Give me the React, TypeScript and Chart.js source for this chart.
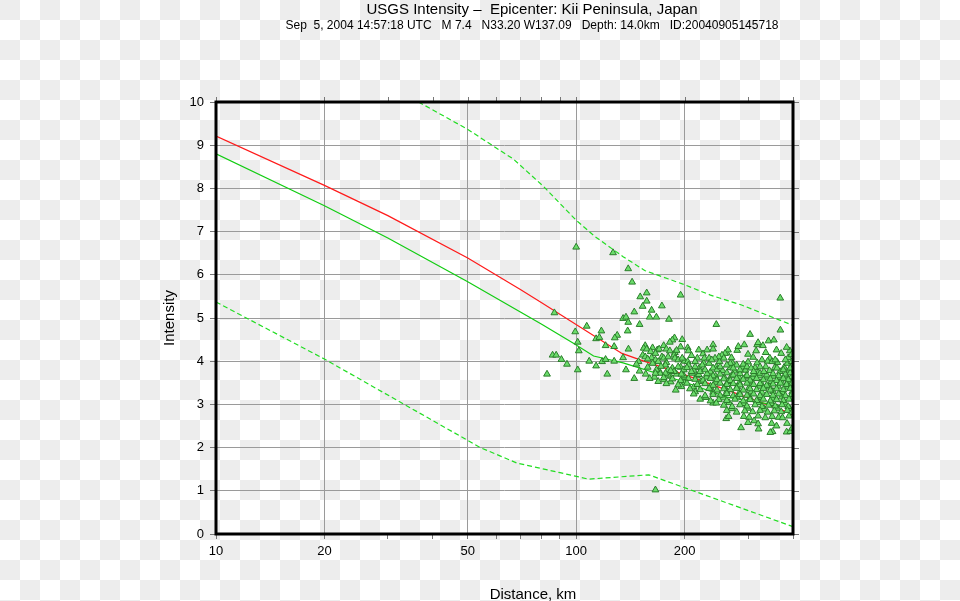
import React, { useEffect, useRef } from "react";
import { Chart, registerables } from "chart.js";

Chart.register(...registerables);

const FONT = '"Liberation Sans", Arial, Helvetica, sans-serif';

// ---- axes ----
const xTickValues = [10, 20, 30, 40, 50, 60, 70, 80, 90, 100, 200, 300, 400];
const xLabeledTicks = [10, 20, 50, 100, 200];
const yTickValues = [0, 1, 2, 3, 4, 5, 6, 7, 8, 9, 10];

// ---- regression lines (distance km, intensity) ----
const medianDist = [10, 20, 30, 50, 70, 80, 134, 150.6, 198, 285.5, 393, 400];
const medianMmi = [9.21, 8.07, 7.37, 6.39, 5.66, 5.36, 4.18, 4.03, 3.7, 3.22, 2.8, 2.72];

const biasDist = [10, 20, 30, 50, 70, 80, 98, 111.8, 135, 198, 262, 393, 400];
const biasMmi = [8.8, 7.6, 6.85, 5.84, 5.14, 4.86, 4.42, 4.12, 3.96, 3.53, 3.17, 2.93, 2.92];

const upperDist = [36.5, 49.9, 66.9, 81.3, 99.8, 113, 135, 155, 200, 236, 288, 397, 400];
const upperMmi = [10, 9.37, 8.68, 8.04, 7.27, 6.88, 6.42, 6.1, 5.77, 5.53, 5.3, 4.84, 4.83];

const lowerDist = [10, 20, 54.2, 68.6, 90.2, 108.2, 159, 400];
const lowerMmi = [5.37, 4.05, 2.0, 1.64, 1.42, 1.27, 1.37, 0.17];

// ---- stations [distance km, intensity] ----
const stationsSparse: [number, number][] = [
  [100, 6.64], [126.6, 6.51], [139.5, 6.14], [143, 5.83], [157, 5.58], [150.6, 5.49], [157, 5.39],
  [153, 5.27], [173, 5.28], [162, 5.18], [145, 5.14], [195, 5.53], [368.7, 5.46], [245, 4.85],
  [135, 4.99], [137.5, 5.02], [160, 5.02], [167, 5.02], [181, 4.97], [139.5, 4.9], [150, 4.85],
  [87, 5.12], [99.4, 4.68], [107, 4.81], [117.5, 4.7], [113.6, 4.52], [116, 4.55], [139, 4.7],
  [130, 4.6], [128, 4.54], [101, 4.44], [101.7, 4.24], [120.7, 4.36], [127.5, 4.34], [139.7, 4.28],
  [86, 4.14], [88, 4.14], [91, 4.04], [94.3, 3.93], [83, 3.7], [101, 3.8], [108.7, 4.0], [118, 3.99],
  [120.7, 4.04], [113.6, 3.89], [127.5, 4.0], [122, 3.7], [137.5, 3.8], [135, 4.08], [145, 3.6],
  [187.5, 4.54], [185, 4.49], [197, 4.5], [304, 4.62], [293, 4.38], [318, 4.38], [320, 4.43],
  [342, 4.47], [354, 4.49], [369, 4.72], [189, 3.33], [245, 3.03], [166, 1.02], [182, 4.44],
  [166, 3.72], [169, 3.53],
];

const stationsMid: [number, number][] = [
  [155.5, 4.36], [154, 4.3], [157, 4.28], [163, 4.31], [168, 4.26], [170, 4.28], [161, 4.22],
  [166, 4.18], [178, 4.28], [182, 4.24], [190, 4.25], [204, 4.31], [205, 4.24], [219, 4.26],
  [231, 4.26], [153, 4.14], [155.5, 4.1], [162, 4.08], [173, 4.1], [175, 4.07], [180, 4.1],
  [187, 4.14], [188, 4.07], [192, 4.03], [197, 4.07], [209, 4.13], [217, 4.07], [214, 3.99],
  [227, 4.07], [234, 4.07], [204, 3.99], [205, 3.91], [214, 3.87], [224, 3.91], [234, 3.95],
  [177, 3.91], [180, 3.8], [185, 3.84], [192, 3.87], [199, 3.8], [149, 3.99], [147, 3.93],
  [166, 4.03], [169, 3.99], [167, 3.8], [177, 3.72], [187, 3.76], [209, 3.76], [221, 3.76],
  [228, 3.8], [240, 4.28], [264, 4.26], [259, 4.18], [254, 4.14], [249, 4.1], [243, 4.07],
  [238, 4.03], [257, 4.07], [268, 3.95], [279, 3.91], [291, 3.93], [298, 3.87], [306, 3.84],
  [324, 3.87], [328, 4.03], [350, 3.99], [357, 4.03], [381, 4.03], [240, 3.84], [246, 3.8],
  [251, 3.87], [262, 3.91], [273, 3.84], [285, 3.8], [311, 3.76], [332, 3.76], [361, 3.84],
  [376, 3.8], [393, 3.84],
  [158, 3.86], [163, 3.95], [172, 3.88], [158, 4.05], [175, 3.62], [183, 3.78], [196, 3.7],
  [203, 3.85], [150, 3.77], [156, 3.7],
];

const stationsDense: [number, number][] = [
  [178, 3.97], [200, 4.0], [226, 3.96], [250, 3.99], [272, 3.95], [300, 3.98], [318, 3.96], [340, 4.0],
  [362, 3.97], [386, 3.95], [397, 3.99],
  [170, 3.78], [186, 3.76], [212, 3.79], [236, 3.75], [255, 3.78], [275, 3.77], [295, 3.79], [320, 3.74],
  [344, 3.78], [368, 3.76], [390, 3.79],
  [188, 4.2], [225, 4.17], [262, 4.19], [300, 4.16], [336, 4.2], [371, 4.18], [396, 4.15],
  [175, 4.36], [195, 4.33], [240, 4.38], [282, 4.34], [330, 4.36], [384, 4.32],
  [171, 3.72], [180, 3.68], [190, 3.7], [199, 3.66], [210, 3.72], [219, 3.69], [231, 3.71], [240, 3.66],
  [251, 3.7], [262, 3.73], [273, 3.68], [285, 3.71], [298, 3.67], [311, 3.7], [324, 3.72], [338, 3.68],
  [352, 3.71], [365, 3.66], [381, 3.7], [393, 3.73],
  [160, 3.6], [175, 3.57], [185, 3.59], [195, 3.55], [205, 3.6], [214, 3.58], [225, 3.56], [236, 3.6],
  [246, 3.57], [257, 3.59], [268, 3.55], [279, 3.6], [291, 3.58], [304, 3.56], [317, 3.6], [331, 3.57],
  [346, 3.59], [360, 3.55], [376, 3.6], [388, 3.57],
  [178, 3.48], [192, 3.45], [203, 3.49], [217, 3.46], [228, 3.48], [240, 3.44], [251, 3.49], [262, 3.46],
  [273, 3.48], [285, 3.45], [298, 3.49], [311, 3.46], [324, 3.48], [338, 3.44], [352, 3.47], [369, 3.49],
  [384, 3.46], [397, 3.48],
  [207, 3.36], [221, 3.34], [234, 3.37], [246, 3.33], [257, 3.36], [268, 3.34], [279, 3.37], [291, 3.33],
  [304, 3.36], [317, 3.34], [331, 3.37], [346, 3.33], [360, 3.36], [376, 3.34], [393, 3.37],
  [212, 3.24], [228, 3.2], [240, 3.23], [251, 3.21], [262, 3.25], [273, 3.2], [285, 3.23], [298, 3.21],
  [311, 3.24], [324, 3.2], [338, 3.23], [352, 3.21], [365, 3.24], [381, 3.2], [397, 3.23],
  [221, 3.12], [236, 3.08], [249, 3.11], [262, 3.09], [276, 3.12], [291, 3.08], [304, 3.11], [317, 3.09],
  [331, 3.12], [346, 3.08], [360, 3.11], [376, 3.09], [390, 3.12],
  [257, 2.98], [271, 2.95], [285, 2.99], [298, 2.96], [314, 2.99], [328, 2.95], [342, 2.98], [357, 2.96],
  [373, 2.99], [388, 2.95],
  [262, 2.86], [279, 2.82], [294, 2.85], [309, 2.83], [324, 2.86], [340, 2.82], [355, 2.85], [371, 2.83],
  [386, 2.86], [397, 2.81],
  [261, 2.67], [265, 2.72], [292, 2.72], [302, 2.7], [320, 2.73], [335, 2.69], [350, 2.72], [365, 2.7],
  [374, 2.69], [390, 2.73],
  [287, 2.46], [312, 2.62], [320, 2.55], [321, 2.43], [349, 2.56], [351, 2.37], [346, 2.35], [385, 2.56],
  [384, 2.36], [393, 2.37], [300, 2.58], [360, 2.5], [398, 2.45],
];

const stationsFill: [number, number][] = [
  [165, 3.63], [183, 3.65], [200, 3.62], [216, 3.66], [230, 3.63], [244, 3.65], [258, 3.62], [270, 3.66],
  [283, 3.63], [296, 3.65], [309, 3.62], [323, 3.66], [338, 3.63], [353, 3.65], [368, 3.62], [383, 3.66],
  [396, 3.63],
  [183, 3.52], [200, 3.5], [222, 3.53], [244, 3.51], [264, 3.53], [284, 3.5], [304, 3.52], [326, 3.5],
  [348, 3.53], [372, 3.51], [394, 3.52],
  [196, 3.41], [212, 3.4], [236, 3.42], [258, 3.4], [280, 3.41], [302, 3.39], [322, 3.42], [344, 3.4],
  [364, 3.42], [388, 3.4],
  [214, 3.29], [240, 3.28], [262, 3.3], [284, 3.27], [306, 3.29], [328, 3.28], [352, 3.3], [374, 3.27],
  [398, 3.29],
  [229, 3.16], [256, 3.15], [280, 3.17], [304, 3.15], [326, 3.16], [350, 3.14], [372, 3.17], [395, 3.15],
  [240, 3.03], [266, 3.04], [292, 3.02], [320, 3.04], [348, 3.02], [380, 3.03],
  [270, 2.9], [300, 2.91], [333, 2.89], [362, 2.91], [392, 2.9],
  [195, 3.86], [220, 3.85], [245, 3.87], [268, 3.85], [290, 3.86], [314, 3.85], [336, 3.87], [356, 3.85],
  [378, 3.86], [396, 3.87],
  [270, 4.08], [310, 4.09], [345, 4.07], [388, 4.08],
  [280, 4.25], [316, 4.24], [360, 4.26], [392, 4.24],
];

const toXY = (d: number[], m: number[]) => d.map((x, i) => ({ x, y: m[i] }));
const pairsToXY = (p: [number, number][]) => p.map(([x, y]) => ({ x, y }));

const framePlugin = {
  id: "frame",
  afterDatasetsDraw(chart: any) {
    const { ctx, chartArea: a, scales } = chart;
    ctx.save();
    ctx.strokeStyle = "#777";
    ctx.lineWidth = 1;
    xTickValues.forEach((v) => {
      const px = Math.round(scales.x.getPixelForValue(v)) + 0.5;
      ctx.beginPath();
      ctx.moveTo(px, a.top);
      ctx.lineTo(px, a.top - 5);
      ctx.stroke();
    });
    yTickValues.forEach((v) => {
      const py = Math.round(scales.y.getPixelForValue(v)) + 0.5;
      ctx.beginPath();
      ctx.moveTo(a.right, py);
      ctx.lineTo(a.right + 6, py);
      ctx.stroke();
    });
    ctx.strokeStyle = "#000";
    ctx.lineWidth = 3;
    ctx.strokeRect(a.left, a.top, a.right - a.left, a.bottom - a.top);
    ctx.restore();
  },
};

export default function App() {
  const ref = useRef<HTMLCanvasElement>(null);

  useEffect(() => {
    if (!ref.current) return;
    Chart.defaults.font.family = FONT;
    const lineBase = { type: "line" as const, showLine: true, pointRadius: 0, tension: 0, order: 2, borderWidth: 1.2, fill: false };
    const pointBase = {
      type: "scatter" as const,
      pointStyle: "triangle" as const,
      pointRadius: 3.9,
      pointBorderWidth: 1,
      backgroundColor: "#6bdc6b",
      borderColor: "#2a7d2a",
      order: 0,
    };
    const chart = new Chart(ref.current, {
      type: "scatter",
      data: {
        datasets: [
          { ...lineBase, label: "upper", data: toXY(upperDist, upperMmi), borderColor: "#22dd22", borderDash: [5, 3], borderWidth: 1.2 },
          { ...lineBase, label: "lower", data: toXY(lowerDist, lowerMmi), borderColor: "#22dd22", borderDash: [5, 3], borderWidth: 1.2 },
          { ...lineBase, label: "bias", data: toXY(biasDist, biasMmi), borderColor: "#11cc11" },
          { ...lineBase, label: "median", data: toXY(medianDist, medianMmi), borderColor: "#ff1a1a" },
          { ...pointBase, label: "sparse", data: pairsToXY(stationsSparse) },
          { ...pointBase, label: "mid", data: pairsToXY(stationsMid) },
          { ...pointBase, label: "dense", data: pairsToXY(stationsDense) },
          { ...pointBase, label: "fill", data: pairsToXY(stationsFill) },
        ] as any,
      },
      options: {
        responsive: false,
        animation: false,
        devicePixelRatio: 1,
        layout: { padding: { left: 150, right: 167, top: 102, bottom: 27 } },
        plugins: { legend: { display: false }, tooltip: { enabled: false }, title: { display: false } },
        scales: {
          x: {
            type: "logarithmic",
            min: 10,
            max: 400,
            afterBuildTicks: (scale: any) => {
              scale.ticks = xTickValues.map((v) => ({ value: v }));
            },
            afterFit: (scale: any) => {
              scale.height = 40;
            },
            ticks: {
              autoSkip: false,
              maxRotation: 0,
              padding: 5,
              color: "#000",
              font: { size: 13, family: FONT },
              callback: (v: any) => (xLabeledTicks.includes(Number(v)) ? String(v) : ""),
            },
            grid: {
              color: (c: any) => (c.tick && xLabeledTicks.includes(c.tick.value) ? "#9a9a9a" : "rgba(0,0,0,0)"),
              tickColor: "#777",
              tickLength: 5,
              lineWidth: 1,
            },
            border: { display: false },
          },
          y: {
            type: "linear",
            min: 0,
            max: 10,
            afterBuildTicks: (scale: any) => {
              scale.ticks = yTickValues.map((v) => ({ value: v }));
            },
            afterFit: (scale: any) => {
              scale.width = 66;
            },
            ticks: { padding: 6, color: "#000", font: { size: 13, family: FONT } },
            grid: { color: "#9a9a9a", tickColor: "#777", tickLength: 6, lineWidth: 1 },
            border: { display: false },
            title: {
              display: true,
              text: "Intensity",
              color: "#000",
              font: { size: 15, family: FONT },
              padding: { top: 11, bottom: 0 },
            },
          },
        },
      },
      plugins: [framePlugin],
    } as any);
    return () => chart.destroy();
  }, []);

  const textBase: React.CSSProperties = {
    position: "absolute",
    transform: "translateX(-50%)",
    whiteSpace: "pre",
    fontFamily: FONT,
    color: "#000",
  };

  return (
    <div
      style={{
        position: "fixed",
        left: 0,
        top: 0,
        width: 960,
        height: 601,
        overflow: "hidden",
        backgroundImage: "repeating-conic-gradient(#ffffff 0% 25%, #ededed 0% 50%)",
        backgroundSize: "40px 40px",
        backgroundPosition: "0 0",
      }}
    >
      <canvas ref={ref} width={960} height={601} style={{ position: "absolute", left: 0, top: 0, width: 960, height: 601 }} />
      <div style={{ ...textBase, left: 532, top: 1, fontSize: 15, lineHeight: "15px" }}>
        {"USGS Intensity –  Epicenter: Kii Peninsula, Japan"}
      </div>
      <div style={{ ...textBase, left: 532, top: 19, fontSize: 12, lineHeight: "12px" }}>
        {"Sep  5, 2004 14:57:18 UTC   M 7.4   N33.20 W137.09   Depth: 14.0km   ID:20040905145718"}
      </div>
      <div style={{ ...textBase, left: 533, top: 586, fontSize: 15, lineHeight: "15px" }}>{"Distance, km"}</div>
    </div>
  );
}
